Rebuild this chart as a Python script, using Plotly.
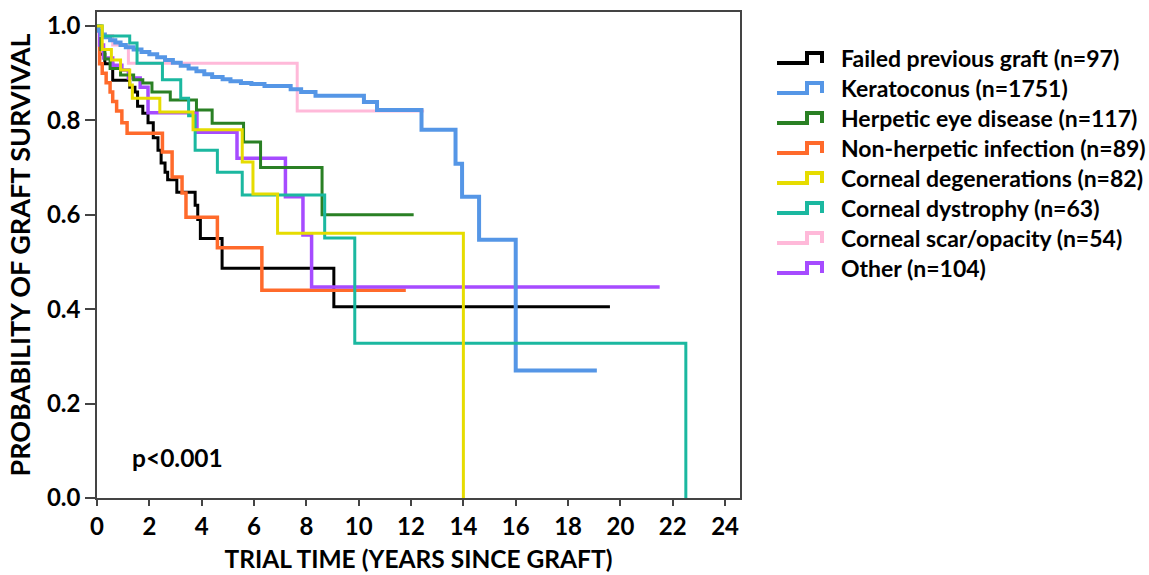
import plotly.graph_objects as go

# ---------------- data ----------------
failed_t = [0, 0.1, 0.3, 0.6, 1.25, 1.45, 1.55, 1.75, 1.95, 2.15, 2.33, 2.45, 2.6, 2.7, 3.05, 3.75, 3.85, 3.95, 4.78, 9.05, 19.6]
failed_s = [1.0, 0.94, 0.92, 0.885, 0.87, 0.86, 0.83, 0.815, 0.795, 0.763, 0.737, 0.71, 0.69, 0.674, 0.648, 0.62, 0.59, 0.55, 0.487, 0.405, 0.405]

kerato_t = [0, 0.05, 0.15, 0.3, 0.5, 0.7, 0.9, 1.1, 1.4, 1.7, 2.0, 2.3, 2.6, 2.9, 3.2, 3.5, 3.8, 4.1, 4.4, 4.8, 5.1, 5.5, 5.9, 6.4, 7.4, 7.8, 8.35, 10.2, 10.7, 12.4, 13.7, 13.95, 14.6, 16.0, 19.1]
kerato_s = [1.0, 0.99, 0.982, 0.976, 0.970, 0.965, 0.960, 0.955, 0.950, 0.945, 0.940, 0.934, 0.928, 0.922, 0.916, 0.910, 0.904, 0.898, 0.892, 0.887, 0.883, 0.879, 0.877, 0.873, 0.866, 0.860, 0.852, 0.839, 0.822, 0.780, 0.708, 0.638, 0.547, 0.270, 0.270]

herpes_t = [0, 0.15, 0.3, 0.5, 0.9, 1.4, 1.75, 2.1, 2.8, 3.8, 4.4, 5.6, 6.25, 8.6, 12.1]
herpes_s = [1.0, 0.95, 0.93, 0.91, 0.896, 0.886, 0.879, 0.86, 0.843, 0.822, 0.794, 0.754, 0.70, 0.60, 0.60]

nonherp_t = [0, 0.1, 0.2, 0.35, 0.5, 0.6, 0.75, 0.95, 1.15, 2.5, 2.87, 3.25, 3.4, 4.6, 6.3, 11.8]
nonherp_s = [1.0, 0.92, 0.90, 0.88, 0.86, 0.84, 0.82, 0.795, 0.773, 0.733, 0.68, 0.646, 0.595, 0.53, 0.44, 0.44]

degen_t = [0, 0.2, 0.55, 0.9, 1.25, 1.35, 2.4, 3.67, 5.55, 5.96, 6.9, 14.0]
degen_s = [1.0, 0.95, 0.928, 0.907, 0.875, 0.847, 0.818, 0.78, 0.712, 0.644, 0.561, 0.0]

dystro_t = [0, 0.2, 1.25, 1.53, 2.5, 3.2, 3.5, 3.75, 4.6, 5.55, 8.7, 9.85, 22.5]
dystro_s = [1.0, 0.979, 0.964, 0.921, 0.886, 0.847, 0.81, 0.737, 0.69, 0.642, 0.551, 0.328, 0.0]

scar_t = [0, 0.15, 0.6, 1.2, 7.65, 12.5]
scar_s = [1.0, 0.98, 0.96, 0.921, 0.82, 0.82]

other_t = [0, 0.1, 0.25, 0.6, 0.95, 1.2, 1.65, 1.95, 3.82, 5.35, 7.2, 7.87, 8.2, 21.5]
other_s = [1.0, 0.96, 0.932, 0.917, 0.907, 0.89, 0.87, 0.816, 0.775, 0.72, 0.638, 0.557, 0.447, 0.447]

labels = ["Failed previous graft (n=97)", "Keratoconus (n=1751)", "Herpetic eye disease (n=117)",
          "Non-herpetic infection (n=89)", "Corneal degenerations (n=82)", "Corneal dystrophy (n=63)",
          "Corneal scar/opacity (n=54)", "Other (n=104)"]
x_ticks = [0, 2, 4, 6, 8, 10, 12, 14, 16, 18, 20, 22, 24]
y_ticks = [0.0, 0.2, 0.4, 0.6, 0.8, 1.0]
p_text = "p<0.001"

series_t = [failed_t, kerato_t, herpes_t, nonherp_t, degen_t, dystro_t, scar_t, other_t]
series_s = [failed_s, kerato_s, herpes_s, nonherp_s, degen_s, dystro_s, scar_s, other_s]

# ---------------- styling ----------------
colors = ["#000000", "#5596E6", "#2A8024", "#FF6A2B", "#E6DC00", "#1BB8A0", "#FFB9D9", "#A64BFF"]
widths = [3, 4, 3, 3.5, 3, 3, 3, 3.5]
FONT = "Lato"

W, H = 1149, 575
PL, PR, PT, PB = 97, 740, 12, 498  # plot area in pixels


def pxx(x):
    return (x - PL) / (PR - PL)


def pxy(y):
    return (PB - y) / (PB - PT)


fig = go.Figure()
draw_order = [0, 3, 7, 2, 6, 1, 5, 4]
for i in draw_order:
    fig.add_trace(go.Scatter(
        x=series_t[i], y=series_s[i], mode="lines", name=labels[i],
        line=dict(color=colors[i], width=widths[i], shape="hv"),
        showlegend=False, hoverinfo="skip"))

# custom legend with step-shaped symbols
for k, lab in enumerate(labels):
    cy = 58 + 30 * k
    pts = [(777, cy + 5), (807, cy + 5), (807, cy - 5), (822, cy - 5), (822, cy + 5)]
    path = "M " + " L ".join(f"{pxx(a):.5f},{pxy(b):.5f}" for a, b in pts)
    fig.add_shape(type="path", path=path, xref="paper", yref="paper",
                  line=dict(color=colors[k], width=4))
    fig.add_annotation(x=pxx(839), y=pxy(cy), xref="paper", yref="paper", text=lab,
                       showarrow=False, xanchor="left", yanchor="middle",
                       font=dict(family=FONT, size=23, color="#000000", weight="bold"))

fig.add_annotation(x=1.26, y=0.085, xref="x", yref="y", text=p_text, showarrow=False,
                   xanchor="left", yanchor="middle",
                   font=dict(family=FONT, size=24.5, color="#000000", weight="bold"))

axis_common = dict(showline=True, linecolor="#444444", linewidth=1.5, mirror=True,
                   ticks="outside", tickcolor="#444444", tickwidth=1.5,
                   showgrid=False, zeroline=False,
                   tickfont=dict(family=FONT, size=24, color="#000000", weight="bold"))

fig.update_layout(
    width=W, height=H,
    margin=dict(l=PL, r=W - PR, t=PT, b=H - PB, autoexpand=False),
    paper_bgcolor="white", plot_bgcolor="white",
    xaxis=dict(range=[0, (PR - PL) / 26.17], tickvals=x_ticks, ticklen=6,
               title=dict(text="TRIAL TIME (YEARS SINCE GRAFT)", standoff=12,
                          font=dict(family=FONT, size=24.5, color="#000000", weight="bold")),
               automargin=False, **axis_common),
    yaxis=dict(range=[0, (PB - PT) / 472.0], tickvals=y_ticks, tickformat=".1f", ticklen=10,
               title=dict(text="PROBABILITY OF GRAFT SURVIVAL", standoff=8,
                          font=dict(family=FONT, size=27, color="#000000", weight="bold")),
               automargin=False, **axis_common),
)

fig.write_html("out.html", config={"displayModeBar": False},
               post_script="document.body.style.margin='0px';")
